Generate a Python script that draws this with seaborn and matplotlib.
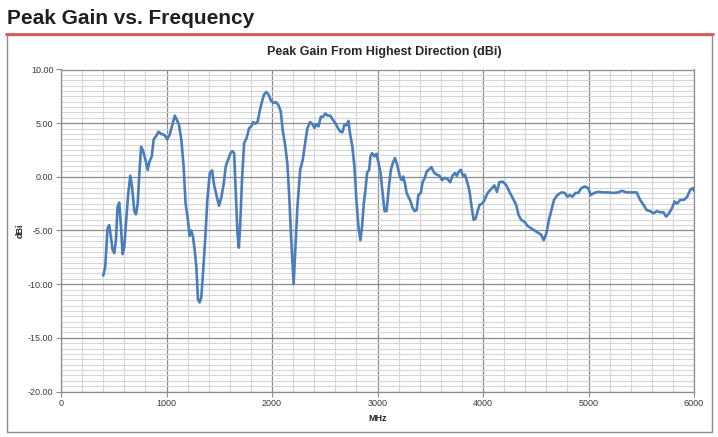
import matplotlib
matplotlib.use("Agg")
import matplotlib.pyplot as plt
from matplotlib.patches import Rectangle
from matplotlib.lines import Line2D
from matplotlib.ticker import MultipleLocator, FormatStrFormatter
import seaborn as sns
import pandas as pd

# ---- data ----
freq_mhz = [400, 419, 441, 457, 473, 489, 505, 521, 536, 552, 568, 584, 600, 616, 638, 657, 673, 695, 711, 727,
            743, 759, 775, 800, 822, 838, 860, 879, 902, 924, 949, 981, 1006, 1029, 1051, 1079, 1098, 1117, 1140,
            1162, 1181, 1203, 1219, 1235, 1251, 1267, 1283, 1298, 1314, 1330, 1346, 1368, 1387, 1410, 1432, 1451,
            1473, 1498, 1521, 1543, 1562, 1584, 1606, 1625, 1641, 1657, 1673, 1686, 1698, 1717, 1736, 1759, 1784,
            1803, 1822, 1841, 1863, 1886, 1905, 1924, 1946, 1968, 1990, 2013, 2038, 2060, 2083, 2102, 2124, 2146,
            2165, 2181, 2205, 2222, 2241, 2267, 2292, 2314, 2336, 2362, 2384, 2403, 2419, 2441, 2463, 2483, 2505,
            2527, 2552, 2578, 2600, 2625, 2648, 2667, 2686, 2705, 2724, 2737, 2762, 2781, 2800, 2819, 2838, 2854,
            2870, 2886, 2902, 2921, 2933, 2949, 2971, 2990, 3010, 3029, 3048, 3067, 3086, 3108, 3127, 3146, 3165,
            3187, 3212, 3229, 3244, 3260, 3276, 3295, 3314, 3333, 3352, 3371, 3387, 3410, 3429, 3448, 3467, 3489,
            3511, 3536, 3562, 3587, 3612, 3638, 3663, 3689, 3711, 3733, 3752, 3771, 3790, 3810, 3829, 3854, 3873,
            3892, 3911, 3930, 3949, 3968, 3993, 4013, 4044, 4076, 4108, 4133, 4155, 4187, 4219, 4251, 4283, 4314,
            4337, 4362, 4394, 4425, 4457, 4489, 4521, 4552, 4575, 4600, 4625, 4648, 4673, 4705, 4743, 4775, 4800,
            4822, 4848, 4876, 4902, 4933, 4965, 4997, 5022, 5054, 5092, 5140, 5187, 5235, 5283, 5314, 5362, 5410,
            5457, 5489, 5521, 5552, 5584, 5616, 5648, 5679, 5711, 5736, 5759, 5790, 5816, 5838, 5870, 5902, 5933,
            5965, 5990, 6000]
gain_dbi = [-9.2, -8.4, -4.8, -4.5, -5.6, -6.8, -7.1, -5.9, -2.8, -2.4, -4.6, -7.2, -6.5, -4.3, -1.5, 0.1, -0.9,
            -3.2, -3.5, -2.5, 0.35, 2.8, 2.5, 1.6, 0.65, 1.4, 1.9, 3.5, 3.8, 4.2, 4.0, 3.9, 3.5, 3.9, 4.7, 5.7, 5.3,
            4.9, 3.5, 1.0, -2.5, -4.0, -5.5, -5.0, -5.6, -6.8, -8.4, -11.4, -11.7, -11.2, -9.0, -5.6, -2.15, 0.35,
            0.6, -0.75, -1.7, -2.7, -1.85, -0.6, 1.0, 1.6, 2.2, 2.4, 2.2, -1.5, -5.3, -6.6, -4.6, 0.0, 3.15, 3.6,
            4.55, 4.7, 5.1, 4.95, 5.1, 6.25, 7.0, 7.65, 7.9, 7.65, 7.1, 6.9, 6.95, 6.7, 6.1, 4.3, 3.0, 1.2, -2.15,
            -5.6, -10.0, -6.5, -2.8, 0.65, 1.6, 3.15, 4.55, 5.1, 4.9, 4.55, 4.9, 4.7, 5.6, 5.6, 5.9, 5.7, 5.7, 5.3,
            5.0, 4.55, 4.2, 4.15, 4.85, 4.8, 5.2, 4.2, 2.8, 0.96, -2.15, -4.6, -5.9, -4.6, -2.5, -1.2, 0.4, 0.65,
            1.9, 2.2, 1.9, 2.15, 1.3, 0.35, -1.5, -3.2, -3.2, -0.9, 0.65, 1.3, 1.75, 1.1, 0.03, -0.3, 0.03, -0.6,
            -1.5, -1.9, -2.3, -2.9, -3.2, -3.1, -1.7, -1.5, -0.45, -0.1, 0.5, 0.7, 0.9, 0.4, 0.2, 0.1, -0.3, -0.1,
            -0.2, -0.5, 0.1, 0.35, 0.1, 0.5, 0.65, 0.1, 0.2, -0.6, -1.4, -2.8, -4.0, -3.9, -3.2, -2.6, -2.5, -2.2,
            -1.5, -1.15, -0.8, -1.4, -0.5, -0.45, -0.75, -1.4, -2.0, -2.6, -3.55, -4.0, -4.2, -4.6, -4.8, -5.0,
            -5.2, -5.4, -5.9, -5.3, -4.0, -3.1, -2.15, -1.7, -1.45, -1.5, -1.85, -1.7, -1.85, -1.5, -1.5, -1.05,
            -0.9, -1.05, -1.7, -1.5, -1.4, -1.45, -1.45, -1.5, -1.45, -1.3, -1.45, -1.45, -1.45, -2.15, -2.6, -3.1,
            -3.2, -3.4, -3.2, -3.3, -3.3, -3.7, -3.45, -2.95, -2.3, -2.5, -2.15, -2.15, -1.9, -1.2, -1.05, -1.3]
x_ticks = [0, 1000, 2000, 3000, 4000, 5000, 6000]
y_ticks = [-20, -15, -10, -5, 0, 5, 10]

page_title = "Peak Gain vs. Frequency"
chart_title = "Peak Gain From Highest Direction (dBi)"
x_label = "MHz"
y_label = "dBi"

df = pd.DataFrame({"MHz": freq_mhz, "dBi": gain_dbi})

# ---- style ----
sns.set_theme(style="white")
plt.rcParams["font.family"] = ["Liberation Sans", "DejaVu Sans"]

W, H = 718, 437
fig = plt.figure(figsize=(W / 100, H / 100), dpi=100)
fig.patch.set_facecolor("white")

# outer chart frame and red rule
fig.add_artist(Rectangle((6.7 / W, 1 - 431.7 / H), (712.3 - 6.7) / W, (431.7 - 34.5) / H,
                         transform=fig.transFigure, facecolor="white", edgecolor="#8e8e8e", lw=1.0, zorder=0))
fig.add_artist(Line2D([6.2 / W, 712.8 / W], [1 - 34.3 / H, 1 - 34.3 / H], transform=fig.transFigure,
                      color="#d9575a", lw=2.0, zorder=1))

fig.text(7 / W, 1 - 24.5 / H, page_title, fontsize=15, fontweight="bold", color="#1f1f1f",
         ha="left", va="baseline")

ax = fig.add_axes([61 / W, 1 - 391.5 / H, (694 - 61) / W, (391.5 - 69.5) / H])
ax.set_facecolor("white")

sns.lineplot(data=df, x="MHz", y="dBi", ax=ax, color="#4a7ebb", linewidth=1.9, zorder=5)

ax.set_xlim(0, 6000)
ax.set_ylim(-20, 10)
ax.set_xticks(x_ticks)
ax.set_yticks(y_ticks)
ax.xaxis.set_minor_locator(MultipleLocator(200))
ax.yaxis.set_minor_locator(MultipleLocator(0.5))
ax.yaxis.set_major_formatter(FormatStrFormatter("%.2f"))

ax.grid(which="major", color="#8c8c8c", lw=0.9, zorder=1)
ax.grid(which="minor", color="#d6d6d6", lw=0.8, zorder=0)
ax.set_axisbelow(True)
for s in ax.spines.values():
    s.set_color("#8c8c8c")
    s.set_linewidth(0.9)

ax.tick_params(axis="both", which="major", direction="out", length=3.5, width=0.8, color="#8c8c8c",
               labelsize=6.5, labelcolor="#3a3a3a", pad=2, left=True, bottom=True)
ax.tick_params(axis="both", which="minor", length=0)

ax.set_xlabel(x_label, fontsize=6.5, fontweight="bold", color="#262626", labelpad=4)
ax.set_ylabel(y_label, fontsize=6.5, fontweight="bold", color="#262626", labelpad=2)

fig.text(384 / W, 1 - 52 / H, chart_title, fontsize=9, fontweight="bold", color="#262626",
         ha="center", va="center")

fig.savefig("out.png", dpi=100, facecolor="white")
